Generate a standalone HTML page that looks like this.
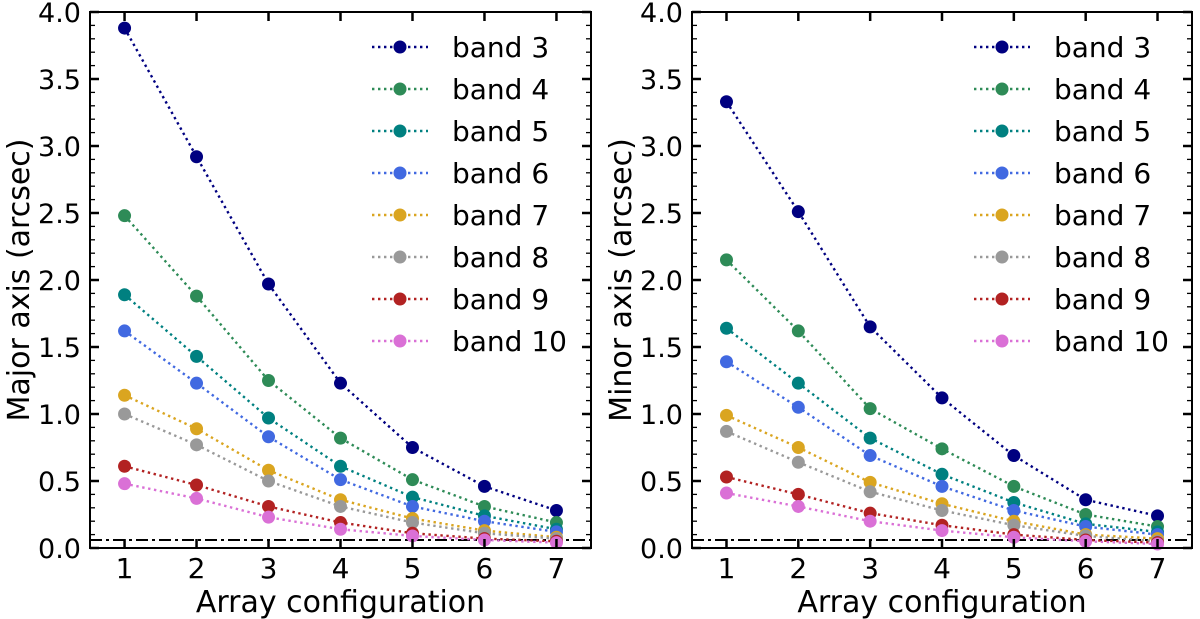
<!DOCTYPE html>
<html><head><meta charset="utf-8"><style>body{margin:0;background:#fff}svg{display:block}text{font-family:"DejaVu Sans","Liberation Sans",sans-serif;fill:#000}</style></head>
<body><svg id="s" width="1200" height="619"></svg>
<script>
const configs=[1,2,3,4,5,6,7];
const bands=["band 3","band 4","band 5","band 6","band 7","band 8","band 9","band 10"];
const colors=["#000080","#2e8b57","#008080","#4169e1","#daa520","#999999","#b22222","#da70d6"];
const yTicks=[0,0.5,1,1.5,2,2.5,3,3.5,4];
const yTickLabels=["0.0","0.5","1.0","1.5","2.0","2.5","3.0","3.5","4.0"];
const majorVals=[
[3.88,2.92,1.97,1.23,0.75,0.46,0.28],
[2.48,1.88,1.25,0.82,0.51,0.31,0.19],
[1.89,1.43,0.97,0.61,0.38,0.24,0.14],
[1.62,1.23,0.83,0.51,0.31,0.20,0.12],
[1.14,0.89,0.58,0.36,0.22,0.13,0.08],
[1.00,0.77,0.50,0.31,0.19,0.11,0.07],
[0.61,0.47,0.31,0.19,0.11,0.07,0.05],
[0.48,0.37,0.23,0.14,0.09,0.06,0.04]];
const minorVals=[
[3.33,2.51,1.65,1.12,0.69,0.36,0.24],
[2.15,1.62,1.04,0.74,0.46,0.25,0.16],
[1.64,1.23,0.82,0.55,0.34,0.18,0.12],
[1.39,1.05,0.69,0.46,0.28,0.16,0.10],
[0.99,0.75,0.49,0.33,0.20,0.10,0.07],
[0.87,0.64,0.42,0.28,0.17,0.09,0.05],
[0.53,0.40,0.26,0.17,0.10,0.06,0.04],
[0.41,0.31,0.20,0.13,0.08,0.05,0.03]];
const refLine=0.06;
const S=document.getElementById('s');const NS='http://www.w3.org/2000/svg';
function el(t,a,p){const e=document.createElementNS(NS,t);for(const k in a)e.setAttribute(k,a[k]);(p||S).appendChild(e);return e;}
function panel(x0,x1,vals,title,pref){
 const y0=548,yTop=12;
 const g=el('g',{});
 
 
 const xs=v=>x0+(v-0.52)/(7.48-0.52)*(x1-x0);
 const ys=v=>y0-v/4*(y0-yTop);
 const rl=el('line',{x1:x0,x2:x1,y1:ys(refLine),y2:ys(refLine),stroke:'#000','stroke-width':2,'stroke-dasharray':'12,4,3,4'},g);
 
 
 vals.forEach((arr,i)=>{
  const pts=arr.map((v,j)=>xs(configs[j])+','+ys(v)).join(' ');
  const pl=el('polyline',{points:pts,fill:'none',stroke:colors[i],'stroke-width':2.4,'stroke-dasharray':'2.4,3.6'},g);
  
  
  arr.forEach((v,j)=>{const c=el('circle',{cx:xs(configs[j]),cy:ys(v),r:6.5,fill:colors[i]},g);
   
   });
 });
 el('rect',{x:x0,y:yTop,width:x1-x0,height:y0-yTop,fill:'none',stroke:'#000','stroke-width':2},g);
 configs.forEach(c=>{const x=xs(c);
  el('line',{x1:x,x2:x,y1:y0,y2:y0-9,stroke:'#000','stroke-width':2.5},g);
  el('line',{x1:x,x2:x,y1:yTop,y2:yTop+9,stroke:'#000','stroke-width':2.5},g);
  const t=el('text',{x:x,y:y0+30,'font-size':28,'text-anchor':'middle'},g);t.textContent=c;
  
  });
 for(let k=0;k<=40;k++){const v=k/10,y=ys(v),L=(k%5==0)?9:5;
  el('line',{x1:x0,x2:x0+L,y1:y,y2:y,stroke:'#000','stroke-width':k%5==0?2.5:1.3},g);
  el('line',{x1:x1,x2:x1-L,y1:y,y2:y,stroke:'#000','stroke-width':k%5==0?2.5:1.3},g);}
 yTicks.forEach((v,i)=>{const t=el('text',{x:x0-9,y:ys(v)+10,'font-size':27,'text-anchor':'end'},g);t.textContent=yTickLabels[i];
  
  });
 const xt=el('text',{x:(x0+x1)/2,y:612,'font-size':30,'text-anchor':'middle'},g);xt.textContent='Array configuration';
 
 
 const yt=el('text',{x:0,y:0,'font-size':30,'text-anchor':'middle',transform:`translate(${x0-61},${(y0+yTop)/2}) rotate(-90)`},g);yt.textContent=title;
 
 
 const lg=el('g',{},g);
 
 
 bands.forEach((b,i)=>{const y=47+i*42,lx=x0+282;
  const e=el('g',{},lg);
  
  
  el('line',{x1:lx,x2:lx+56,y1:y,y2:y,stroke:colors[i],'stroke-width':2.4,'stroke-dasharray':'2.4,3.6'},e);
  el('circle',{cx:lx+28,cy:y,r:6.5,fill:colors[i]},e);
  const t=el('text',{x:lx+80,y:y+10,'font-size':28},e);t.textContent=b;});
}
panel(90,591,majorVals,'Major axis (arcsec)','major');
panel(692,1192,minorVals,'Minor axis (arcsec)','minor');
</script></body></html>
